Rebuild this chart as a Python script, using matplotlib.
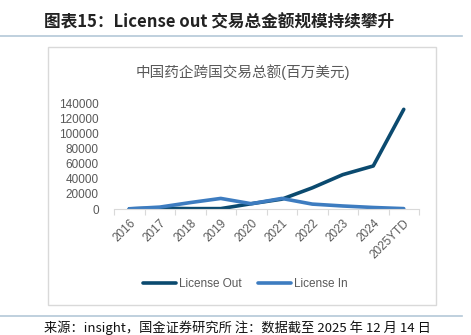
import matplotlib
matplotlib.use('Agg')
import matplotlib.pyplot as plt
from matplotlib.lines import Line2D
from matplotlib.patches import Rectangle

plt.rcParams['font.family'] = ['Liberation Sans', 'Noto Sans CJK SC', 'DejaVu Sans']

# cross-border deal value of Chinese pharma, million USD
years = ['2016', '2017', '2018', '2019', '2020', '2021', '2022', '2023', '2024', '2025YTD']
license_out = [200, 1000, 500, 500, 7000, 13000, 28000, 45500, 57000, 132000]
license_in = [300, 2500, 8500, 14000, 7000, 14000, 6500, 4000, 2000, 500]

W, H = 471, 335
fig = plt.figure(figsize=(W / 100, H / 100), dpi=100)
fig.patch.set_facecolor('white')

def fx(px):
    return px / W

def fy(py):
    return 1 - py / H

# page header / footer
fig.text(fx(44), fy(22), '图表15：License out 交易总金额规模持续攀升', fontsize=12,
         fontweight='bold', style='italic', family=['Noto Sans CJK SC', 'DejaVu Sans'],
         ha='left', va='center', color='#222222')
fig.add_artist(Line2D([0, fx(462)], [fy(36), fy(36)], color='#b4c8d8', lw=1.2))
fig.add_artist(Line2D([0, fx(462)], [fy(316), fy(316)], color='#b4c8d8', lw=1.2))
fig.text(fx(44), fy(327.5), '来源：insight，国金证券研究所 注：数据截至 2025 年 12 月 14 日', fontsize=9.5,
         family=['Noto Sans CJK SC', 'DejaVu Sans'], ha='left', va='center', color='#111111')

# chart frame
fig.add_artist(Rectangle((fx(48), fy(305)), fx(436) - fx(48), fy(47) - fy(305),
                         transform=fig.transFigure, fill=False, edgecolor='#d9d9d9', lw=1))
fig.text(fx(243), fy(72), '中国药企跨国交易总额(百万美元)', fontsize=10.5, color='#595959',
         ha='center', va='center')

ax = fig.add_axes([fx(114), fy(209), fx(419) - fx(114), fy(103.3) - fy(209)])
x = range(len(years))
ax.plot(x, license_out, color='#0b4a6f', lw=2.6, label='License Out', solid_capstyle='round')
ax.plot(x, license_in, color='#3d7cc0', lw=2.6, label='License In', solid_capstyle='round')

ax.set_xlim(-0.5, len(years) - 0.5)
ax.set_ylim(0, 140000)
ax.set_yticks(range(0, 140001, 20000))
ax.tick_params(axis='y', length=0, labelsize=8.5, labelcolor='#595959', pad=11)
ax.set_xticks([i - 0.5 for i in range(len(years) + 1)])
ax.set_xticklabels([])
ax.set_xticks(list(x), minor=True)
ax.set_xticklabels(years, minor=True, rotation=45, ha='right', rotation_mode='anchor')
ax.tick_params(axis='x', which='major', length=4, color='#d9d9d9')
ax.tick_params(axis='x', which='minor', length=0, labelsize=8.5, labelcolor='#595959', pad=6)
for side in ['top', 'right', 'left']:
    ax.spines[side].set_visible(False)
ax.spines['bottom'].set_color('#d9d9d9')

fig.legend(loc='center', bbox_to_anchor=(fx(245), fy(284)), ncol=2, frameon=False,
           fontsize=8.5, labelcolor='#595959', handlelength=2.8, handletextpad=0.25,
           columnspacing=1.4)

fig.savefig('out.png', dpi=100)
